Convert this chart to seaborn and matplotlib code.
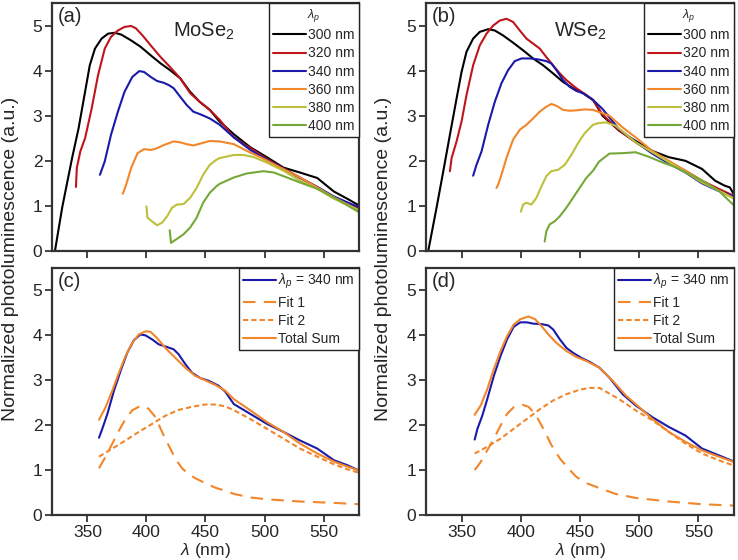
import matplotlib
matplotlib.use("Agg")
import matplotlib.pyplot as plt
import seaborn as sns

# ---------------- data ----------------
# MoSe2, panel (a): PL for each pump wavelength
mo_300_x = [322.5, 328.6, 337, 342.5, 348, 352, 356.4, 362, 367.5, 373, 378.6, 387, 395, 403.6, 412, 420, 428.6, 437, 445, 453.6, 462, 474, 488, 502, 516, 530, 544.6, 558.7, 570, 580]
mo_300_y = [0, 0.96, 2.06, 2.72, 3.53, 4.12, 4.49, 4.71, 4.82, 4.84, 4.80, 4.67, 4.53, 4.34, 4.16, 4.01, 3.83, 3.53, 3.31, 3.13, 2.87, 2.59, 2.30, 2.08, 1.85, 1.74, 1.62, 1.32, 1.16, 1.01]
mo_320_x = [340.3, 341, 344, 348, 353.6, 359, 364.7, 370, 375.8, 381.4, 387, 391, 396.7, 403.6, 412, 420, 428.6, 437, 445, 453.6, 462, 474, 488, 502, 516, 530, 544.6, 558.7, 570, 580]
mo_320_y = [1.42, 1.84, 2.21, 2.50, 3.16, 3.90, 4.49, 4.75, 4.89, 4.97, 4.99, 4.94, 4.78, 4.56, 4.30, 4.08, 3.83, 3.50, 3.31, 3.13, 2.91, 2.52, 2.28, 2.04, 1.83, 1.63, 1.42, 1.19, 1.07, 0.93]
mo_340_x = [360.6, 364.7, 370, 375.8, 381.4, 388, 393.9, 398, 403.6, 409, 414.7, 418.9, 423, 428.6, 434, 439.7, 446.7, 453.6, 462, 474, 488, 502, 516, 530, 544.6, 558.7, 570, 580]
mo_340_y = [1.69, 1.99, 2.58, 3.09, 3.53, 3.86, 3.99, 3.97, 3.86, 3.77, 3.73, 3.68, 3.61, 3.42, 3.24, 3.09, 3.02, 2.94, 2.80, 2.52, 2.24, 2.02, 1.82, 1.62, 1.42, 1.21, 1.08, 0.97]
mo_360_x = [380, 382.8, 387, 392.5, 398, 403.6, 409, 414.7, 423, 428.6, 434, 439.7, 446.7, 453.6, 462, 474, 485, 496.5, 510.5, 530, 544.6, 558.7, 580]
mo_360_y = [1.27, 1.47, 1.84, 2.17, 2.26, 2.24, 2.28, 2.35, 2.43, 2.41, 2.37, 2.34, 2.39, 2.44, 2.43, 2.37, 2.22, 2.08, 1.89, 1.63, 1.41, 1.19, 0.90]
mo_380_x = [400, 400.8, 403.6, 409, 413.3, 417.5, 421.7, 425.8, 431.4, 437, 442.5, 448, 453.6, 459, 462, 474, 482.5, 491, 502, 516, 530, 544.6, 558.7, 580]
mo_380_y = [0.99, 0.74, 0.68, 0.57, 0.63, 0.77, 0.96, 1.03, 1.04, 1.18, 1.40, 1.69, 1.91, 2.02, 2.06, 2.13, 2.13, 2.08, 1.96, 1.78, 1.56, 1.38, 1.16, 0.90]
mo_400_x = [419.7, 420.8, 423, 427, 431.4, 437, 442.5, 448, 453.6, 459, 462, 474, 485, 499, 508, 519, 530, 544.6, 558.7, 580]
mo_400_y = [0.46, 0.18, 0.22, 0.29, 0.37, 0.52, 0.74, 1.07, 1.29, 1.43, 1.49, 1.63, 1.72, 1.77, 1.74, 1.63, 1.52, 1.38, 1.19, 0.86]

# MoSe2, panel (c): 340 nm spectrum and its two-peak fit
mo_meas_x = [359.8, 362.6, 366.9, 372.5, 378.1, 383.7, 389.3, 394.9, 399.2, 404.8, 410.4, 417.4, 423, 427.2, 432.9, 438.5, 445.5, 452.5, 461, 466.6, 474, 488, 502, 516, 530, 544.6, 558.7, 570, 580]
mo_meas_y = [1.72, 1.92, 2.25, 2.77, 3.21, 3.61, 3.89, 4.02, 4.00, 3.91, 3.80, 3.74, 3.69, 3.58, 3.36, 3.17, 3.05, 2.99, 2.88, 2.75, 2.47, 2.25, 2.03, 1.85, 1.66, 1.48, 1.22, 1.11, 0.99]
mo_sum_x = [359.8, 365.4, 371.1, 376.7, 382.3, 387.9, 393.5, 399.2, 403.4, 409, 416, 424.4, 432.9, 441.3, 449.7, 458.1, 466.6, 474, 488, 502, 516, 530, 544.6, 558.7, 570, 580]
mo_sum_y = [2.12, 2.40, 2.77, 3.17, 3.54, 3.83, 4.02, 4.09, 4.08, 3.94, 3.72, 3.50, 3.28, 3.10, 3.00, 2.90, 2.77, 2.58, 2.33, 2.07, 1.85, 1.59, 1.37, 1.19, 1.08, 0.99]
mo_fit1_x = [359.8, 365.4, 371.1, 376.7, 382.3, 387.9, 393.5, 397.8, 402, 407.6, 413.2, 418.8, 424.4, 430.1, 435.7, 441.3, 449.7, 458.1, 466.6, 474, 488, 502, 530, 558.7, 580]
mo_fit1_y = [1.04, 1.30, 1.59, 1.88, 2.14, 2.33, 2.41, 2.43, 2.36, 2.18, 1.85, 1.55, 1.26, 1.04, 0.91, 0.82, 0.71, 0.61, 0.54, 0.47, 0.39, 0.35, 0.30, 0.27, 0.24]
mo_fit2_x = [359.8, 371.1, 382.3, 393.5, 404.8, 416, 427.2, 438.5, 449.7, 458.1, 466.6, 475, 485, 502, 516, 530, 544.6, 558.7, 570, 580]
mo_fit2_y = [1.30, 1.48, 1.66, 1.85, 2.03, 2.21, 2.34, 2.41, 2.46, 2.46, 2.42, 2.32, 2.18, 1.92, 1.70, 1.48, 1.30, 1.13, 1.02, 0.94]

# WSe2, panel (b)
w_300_x = [321.9, 328.9, 334.6, 340.2, 345.8, 350, 354.2, 359.8, 365.4, 372.5, 378.1, 385.1, 393.5, 402, 410.4, 418.8, 427.2, 435.7, 444.1, 452.5, 461, 469, 483, 497, 511, 525, 539, 553, 564, 572, 576.5, 580]
w_300_y = [0, 0.96, 1.77, 2.58, 3.38, 3.97, 4.42, 4.71, 4.86, 4.92, 4.89, 4.78, 4.62, 4.45, 4.27, 4.12, 3.94, 3.75, 3.61, 3.50, 3.35, 3.00, 2.67, 2.44, 2.22, 2.08, 2.00, 1.82, 1.56, 1.45, 1.41, 1.25]
w_320_x = [340.2, 341.6, 345.8, 350, 354.2, 359.8, 365.4, 371.1, 376.7, 382.3, 387.9, 393.5, 399.2, 404.8, 410.4, 416, 421.6, 427.2, 432.9, 438.5, 446.9, 455.3, 461, 469, 483, 497, 511, 525, 539, 553, 567, 580]
w_320_y = [1.77, 2.06, 2.43, 2.87, 3.46, 4.12, 4.56, 4.82, 5.00, 5.11, 5.15, 5.08, 4.89, 4.71, 4.60, 4.49, 4.30, 4.12, 3.94, 3.79, 3.61, 3.46, 3.35, 3.03, 2.67, 2.41, 2.19, 1.97, 1.78, 1.56, 1.38, 1.22]
w_340_x = [359.8, 362.6, 366.9, 372.5, 378.1, 383.7, 389.3, 394.9, 400.6, 407.6, 414.6, 421.6, 425.8, 430.1, 435.7, 441.3, 446.9, 452.5, 461, 469, 483, 497, 511, 525, 539, 553, 567, 580]
w_340_y = [1.67, 1.91, 2.21, 2.80, 3.31, 3.72, 4.01, 4.21, 4.27, 4.27, 4.25, 4.21, 4.16, 4.01, 3.79, 3.64, 3.55, 3.50, 3.35, 3.15, 2.70, 2.42, 2.16, 1.94, 1.74, 1.50, 1.33, 1.21]
w_360_x = [379.5, 380.9, 383.7, 387.9, 393.5, 399.2, 404.8, 410.4, 416, 421.6, 425.8, 430.1, 435.7, 441.3, 446.9, 453.9, 461, 474.8, 486, 497, 511, 525, 539, 553, 567, 580]
w_360_y = [1.40, 1.47, 1.69, 2.06, 2.47, 2.69, 2.80, 2.94, 3.09, 3.20, 3.26, 3.22, 3.13, 3.11, 3.12, 3.14, 3.13, 3.00, 2.74, 2.52, 2.22, 2.00, 1.78, 1.56, 1.34, 1.17]
w_380_x = [400, 402, 404.8, 409, 413.2, 417.4, 421.6, 425.8, 431.5, 437.1, 442.7, 448.3, 453.9, 461, 466, 472, 480, 488.7, 497, 511, 525, 539, 553, 567, 580]
w_380_y = [0.87, 1.03, 1.07, 1.03, 1.18, 1.43, 1.66, 1.77, 1.80, 1.91, 2.13, 2.39, 2.61, 2.80, 2.84, 2.85, 2.78, 2.59, 2.41, 2.19, 1.97, 1.75, 1.52, 1.34, 1.16]
w_400_x = [420.2, 421.6, 424.4, 428.7, 432.9, 438.5, 444.1, 449.7, 455.3, 461, 466, 474.8, 486, 497, 508, 519, 530.5, 541.6, 553, 567, 580]
w_400_y = [0.21, 0.44, 0.59, 0.66, 0.77, 0.96, 1.18, 1.40, 1.62, 1.78, 1.98, 2.16, 2.17, 2.19, 2.09, 1.97, 1.86, 1.71, 1.56, 1.34, 1.01]

# WSe2, panel (d)
w_meas_x = [361.1, 363.4, 367.5, 371.7, 377.3, 382.9, 388.4, 394, 399.6, 405.2, 410.7, 417.7, 423.3, 427.4, 433, 438.6, 444.2, 451.1, 458.1, 466.4, 474.8, 486, 497, 511, 525, 539, 553, 567, 580]
w_meas_y = [1.68, 1.92, 2.21, 2.58, 3.10, 3.54, 3.91, 4.19, 4.29, 4.29, 4.26, 4.25, 4.22, 4.13, 3.91, 3.72, 3.61, 3.50, 3.41, 3.28, 3.06, 2.69, 2.44, 2.18, 1.96, 1.77, 1.48, 1.33, 1.19]
w_sum_x = [361.1, 366.2, 371.7, 377.3, 382.9, 388.4, 394, 399.6, 406.5, 412.1, 417.7, 423.3, 430.2, 438.6, 446.9, 455.3, 466.4, 477.6, 488.7, 500, 511, 525, 539, 553, 567, 580]
w_sum_y = [2.23, 2.44, 2.80, 3.25, 3.65, 3.98, 4.24, 4.36, 4.42, 4.36, 4.20, 4.02, 3.83, 3.65, 3.52, 3.43, 3.28, 2.99, 2.66, 2.40, 2.14, 1.85, 1.63, 1.44, 1.30, 1.18]
w_fit1_x = [361.1, 366.2, 371.7, 377.3, 382.9, 388.4, 394, 401, 406.5, 412.1, 419.1, 426, 433, 440, 446.9, 455.3, 466.4, 480, 497, 525, 553, 580]
w_fit1_y = [1.00, 1.18, 1.44, 1.70, 1.99, 2.25, 2.40, 2.46, 2.41, 2.25, 1.92, 1.55, 1.26, 1.04, 0.85, 0.71, 0.60, 0.47, 0.38, 0.30, 0.24, 0.21]
w_fit2_x = [361.1, 371.7, 382.9, 394, 405.2, 416.3, 427.4, 438.6, 449.7, 458.1, 466.4, 475, 483, 497, 511, 525, 539, 553, 567, 580]
w_fit2_y = [1.37, 1.52, 1.70, 1.92, 2.14, 2.36, 2.55, 2.69, 2.79, 2.83, 2.83, 2.70, 2.58, 2.33, 2.11, 1.85, 1.59, 1.37, 1.22, 1.10]

pump_labels = ["300 nm", "320 nm", "340 nm", "360 nm", "380 nm", "400 nm"]
pump_colors = ["#000000", "#c0141c", "#1a1aaa", "#f2862a", "#bcc03a", "#76a838"]
fit_labels = [r"$\lambda_p$ = 340 nm", "Fit 1", "Fit 2", "Total Sum"]
orange = "#f2862a"

sns.set_theme(style="ticks")
plt.rcParams["font.family"] = ["Liberation Sans", "DejaVu Sans"]
plt.rcParams["mathtext.fontset"] = "custom"
plt.rcParams["mathtext.it"] = "Liberation Sans:italic"
plt.rcParams["mathtext.rm"] = "Liberation Sans"

fig = plt.figure(figsize=(7.38, 5.6), dpi=100)
W, H = 738, 560


def make_ax(l, r, t, b):
    # axes box given in pixel edges
    return fig.add_axes([l / W, 1 - b / H, (r - l) / W, (b - t) / H])


ax_a = make_ax(52, 359, 3, 251)
ax_b = make_ax(426, 734, 3, 251)
ax_c = make_ax(52, 359, 268, 515)
ax_d = make_ax(426, 734, 268, 515)

mo_series = [(mo_300_x, mo_300_y), (mo_320_x, mo_320_y), (mo_340_x, mo_340_y),
             (mo_360_x, mo_360_y), (mo_380_x, mo_380_y), (mo_400_x, mo_400_y)]
w_series = [(w_300_x, w_300_y), (w_320_x, w_320_y), (w_340_x, w_340_y),
            (w_360_x, w_360_y), (w_380_x, w_380_y), (w_400_x, w_400_y)]

leg_kw = dict(loc="upper right", fontsize=10, handlelength=2.4, handletextpad=0.15,
              labelspacing=0.3, borderaxespad=0.0, borderpad=0.3,
              fancybox=False, framealpha=1, edgecolor="#222222")

# top row: pump wavelength series
for ax, series in [(ax_a, mo_series), (ax_b, w_series)]:
    for (xs, ys), lab, col in zip(series, pump_labels, pump_colors):
        sns.lineplot(x=xs, y=ys, ax=ax, color=col, label=lab, lw=1.5)
    leg = ax.legend(title=r"$\lambda_p$", title_fontsize=9, **leg_kw)
    leg.get_frame().set_linewidth(1.0)

# bottom row: fits
fit_sets = [(ax_c, mo_meas_x, mo_meas_y, mo_fit1_x, mo_fit1_y, mo_fit2_x, mo_fit2_y, mo_sum_x, mo_sum_y),
            (ax_d, w_meas_x, w_meas_y, w_fit1_x, w_fit1_y, w_fit2_x, w_fit2_y, w_sum_x, w_sum_y)]
for ax, mx, my, f1x, f1y, f2x, f2y, sx, sy in fit_sets:
    sns.lineplot(x=mx, y=my, ax=ax, color=pump_colors[2], label=fit_labels[0], lw=1.5)
    sns.lineplot(x=f1x, y=f1y, ax=ax, color=orange, label=fit_labels[1], lw=1.5)
    ax.lines[-1].set_dashes([6, 4])
    sns.lineplot(x=f2x, y=f2y, ax=ax, color=orange, label=fit_labels[2], lw=1.5)
    ax.lines[-1].set_dashes([2.5, 1.5])
    sns.lineplot(x=sx, y=sy, ax=ax, color=orange, label=fit_labels[3], lw=1.5)
    leg = ax.legend(**leg_kw)
    leg.get_frame().set_linewidth(1.0)

for ax in [ax_a, ax_b, ax_c, ax_d]:
    ax.set_xlim(320, 580)
    ax.set_ylim(0, 5.5)
    ax.set_xticks([350, 400, 450, 500, 550])
    ax.set_yticks([0, 1, 2, 3, 4, 5])
    ax.tick_params(direction="out", length=5, width=1.2, labelsize=12.5,
                   top=False, right=False, color="#222222", pad=2)
    for s in ax.spines.values():
        s.set_linewidth(1.6)
        s.set_color("#333333")
    ax.set_xlabel("")
    ax.set_ylabel("")

for ax in [ax_a, ax_b]:
    ax.tick_params(labelbottom=False)
for ax in [ax_c, ax_d]:
    ax.set_xlabel(r"$\it{\lambda}$ (nm)", fontsize=12.5, labelpad=1)

for ax, tag in [(ax_a, "(a)"), (ax_b, "(b)"), (ax_c, "(c)"), (ax_d, "(d)")]:
    ax.text(0.02, 0.985, tag, transform=ax.transAxes, fontsize=14.5, va="top", ha="left")
ax_a.text(0.394, 0.93, r"MoSe$_\mathregular{2}$", transform=ax_a.transAxes, fontsize=14.5, va="top", ha="left")
ax_b.text(0.415, 0.93, r"WSe$_\mathregular{2}$", transform=ax_b.transAxes, fontsize=14.5, va="top", ha="left")

ylab = "Normalized photoluminescence (a.u.)"
fig.text(11 / W, 1 - 259 / H, ylab, rotation=90, ha="center", va="center", fontsize=14)
fig.text(383 / W, 1 - 259 / H, ylab, rotation=90, ha="center", va="center", fontsize=14)

fig.savefig("out.png", dpi=100)
